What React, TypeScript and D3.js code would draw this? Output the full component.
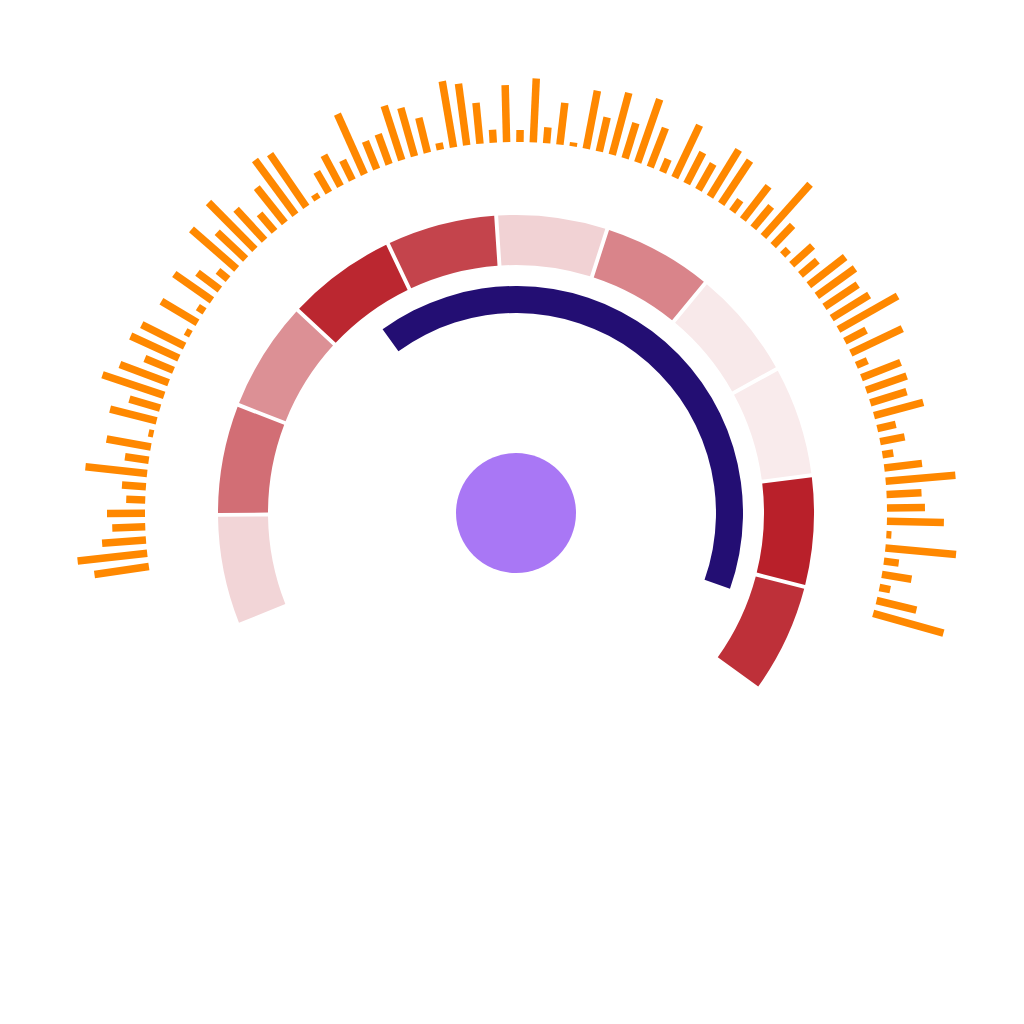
import React, { useRef, useEffect } from 'react';
import * as d3 from 'd3';

// outer ring of orange bars, clockwise from the lower left
const barValues = [
  55, 70, 44, 33, 38, 19, 24, 62, 24, 45,
  5, 48, 32, 65, 52, 31, 53, 48, 6, 42,
  8, 46, 28, 13, 60, 39, 66, 42, 23, 45,
  68, 64, 6, 24, 35, 22, 66, 30, 32, 57,
  50, 36, 7, 67, 62, 41, 13, 57, 12, 64,
  16, 42, 4, 59, 35, 64, 37, 67, 42, 14,
  58, 35, 30, 55, 52, 14, 42, 28, 70, 28,
  8, 28, 22, 46, 47, 40, 44, 68, 24, 57,
  12, 42, 43, 38, 51, 19, 25, 11, 38, 70,
  35, 38, 57, 5, 71, 15, 30, 11, 41, 73,
];

// red segmented ring (0 = white, 100 = full red)
const segmentValues = [19, 65, 50, 97, 84, 20, 55, 10, 9, 100, 93];

// inner gauge arc, in degrees
const gaugeStart = -36;
const gaugeEnd = 109.5;

function App() {
  const ref = useRef(null);

  useEffect(() => {
    const svg = d3.select(ref.current);
    svg.selectAll('*').remove();

    const cx = 516;
    const cy = 513;
    const rad = (d) => (d * Math.PI) / 180;
    const g = svg.append('g').attr('transform', `translate(${cx},${cy})`);

    // orange bars
    const angle = d3.scalePoint()
      .domain(barValues.map((_, i) => i))
      .range([-98.3, 105.7]);
    const len = d3.scaleLinear().domain([0, 80]).range([0, 80]);
    const barInner = 371;
    const barWidth = 7.5;

    g.append('g')
      .selectAll('rect')
      .data(barValues)
      .enter().append('rect')
      .attr('x', -barWidth / 2)
      .attr('y', (d) => -(barInner + len(d)))
      .attr('width', barWidth)
      .attr('height', (d) => len(d))
      .attr('transform', (d, i) => `rotate(${angle(i)})`)
      .attr('fill', '#ff8800');

    // red ring
    const seg = d3.scaleBand()
      .domain(segmentValues.map((_, i) => i))
      .range([rad(-112), rad(126)]);
    const color = d3.scaleLinear().domain([0, 100]).range(['#ffffff', '#b9202a']);
    const segArc = d3.arc()
      .innerRadius(248)
      .outerRadius(298)
      .padAngle(0.014)
      .padRadius(280);

    g.append('g')
      .selectAll('path')
      .data(segmentValues)
      .enter().append('path')
      .attr('d', (d, i) => segArc({ startAngle: seg(i), endAngle: seg(i) + seg.bandwidth() }))
      .attr('fill', (d) => color(d));

    // gauge arc
    const gaugeArc = d3.arc().innerRadius(200).outerRadius(227);
    g.append('path')
      .attr('d', gaugeArc({ startAngle: rad(gaugeStart), endAngle: rad(gaugeEnd) }))
      .attr('fill', '#230e73');

    // center dot
    g.append('circle')
      .attr('r', 60)
      .attr('fill', '#a977f5');
  }, []);

  return (
    <svg
      ref={ref}
      width={1024}
      height={1024}
      style={{ position: 'absolute', left: 0, top: 0, background: '#fff' }}
    />
  );
}

export default App;
